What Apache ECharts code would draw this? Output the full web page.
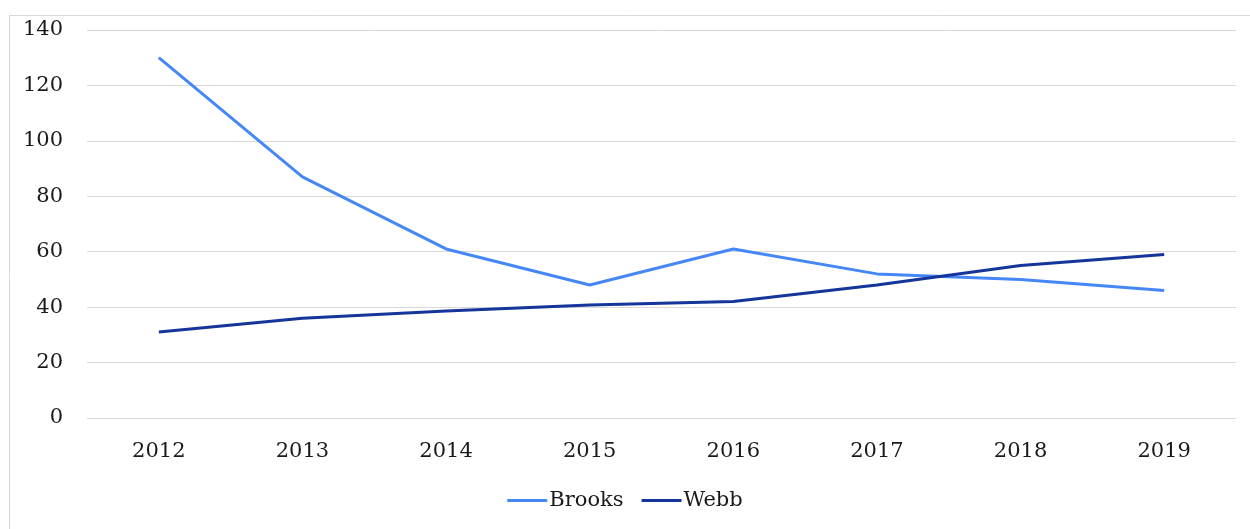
<!DOCTYPE html>
<html>
<head>
<meta charset="utf-8">
<script src="https://cdn.jsdelivr.net/npm/echarts@6/dist/echarts.min.js"></script>
<style>
  html, body { margin: 0; padding: 0; background: #fff; }
  #main { width: 1250px; height: 529px; }
</style>
</head>
<body>
<div id="main"></div>
<script>
// 年份
var years = ['2012', '2013', '2014', '2015', '2016', '2017', '2018', '2019'];
// 两条折线
var brooks = [130, 87, 61, 48, 61, 52, 50, 46];
var webb = [31, 36, 38.6, 40.8, 42, 48, 55, 59];

var font = 'DejaVu Serif';
var chart = echarts.init(document.getElementById('main'));
chart.setOption({
    animation: false,
    graphic: [{
        type: 'rect',
        left: 7, top: 13,
        shape: {width: 1250, height: 520},
        style: {fill: 'none', stroke: '#d9d9d9', lineWidth: 1},
        silent: true
    }],
    grid: {left: 87, right: 14, top: 30, bottom: 111},
    legend: {
        top: 485,
        left: 'center',
        itemWidth: 40,
        itemHeight: 3,
        itemGap: 18,
        icon: 'rect',
        textStyle: {fontFamily: font, fontSize: 21, color: '#1a1a1a', padding: [0, 0, 0, -3]},
        data: ['Brooks', 'Webb']
    },
    xAxis: {
        type: 'category',
        data: years,
        axisLine: {show: false},
        axisTick: {show: false},
        axisLabel: {fontFamily: font, fontSize: 21, color: '#1a1a1a', margin: 23}
    },
    yAxis: {
        type: 'value',
        min: 0, max: 140, interval: 20,
        axisLabel: {fontFamily: font, fontSize: 21, color: '#1a1a1a', margin: 24},
        splitLine: {lineStyle: {color: '#d9d9d9', width: 1}}
    },
    series: [{
        name: 'Brooks',
        type: 'line',
        data: brooks,
        symbol: 'none',
        lineStyle: {color: '#4687f7', width: 3},
        itemStyle: {color: '#4687f7'}
    }, {
        name: 'Webb',
        type: 'line',
        data: webb,
        symbol: 'none',
        lineStyle: {color: '#15359a', width: 3},
        itemStyle: {color: '#15359a'}
    }]
});
</script>
</body>
</html>
